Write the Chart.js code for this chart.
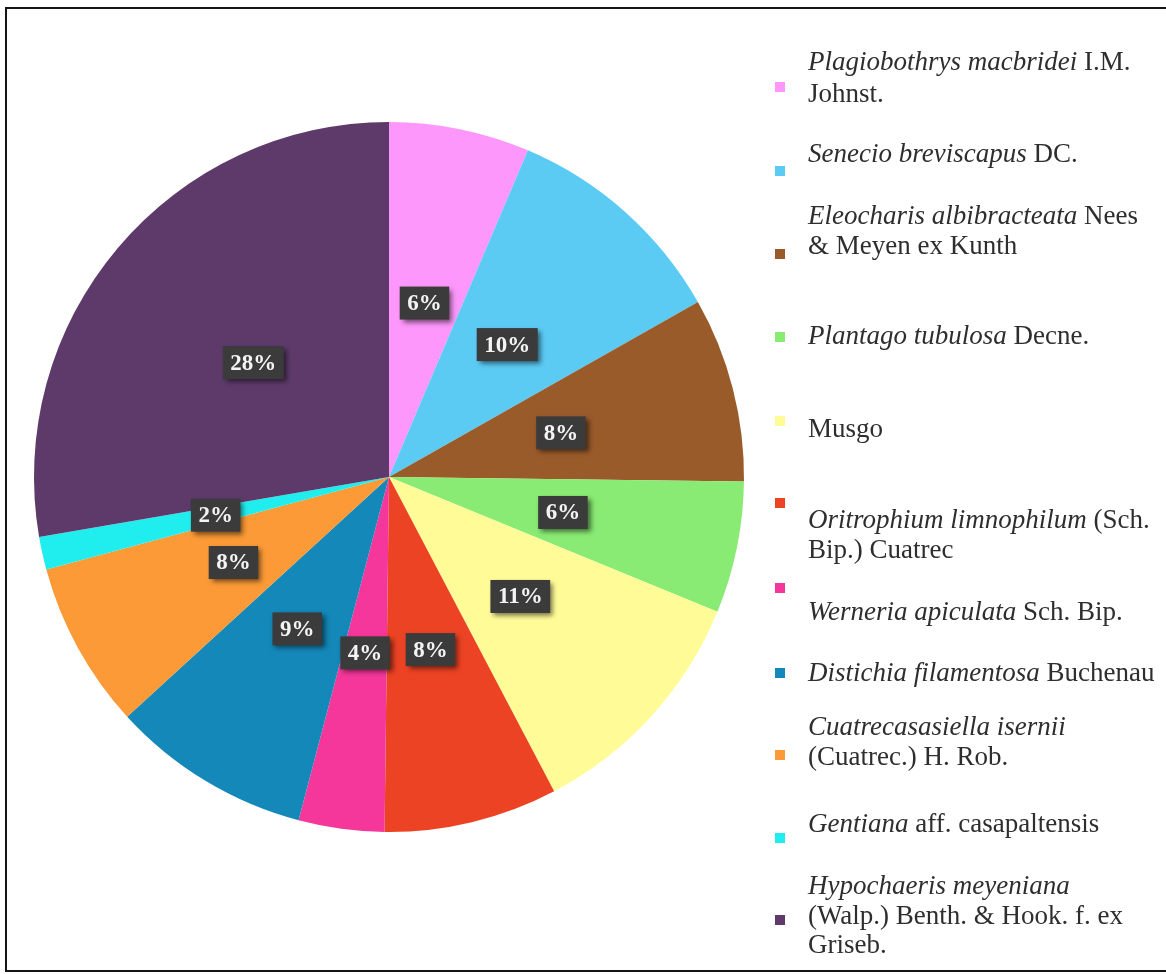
<!DOCTYPE html>
<html>
<head>
<meta charset="utf-8">
<title>Cobertura por especie</title>
<script src="https://cdn.jsdelivr.net/npm/chart.js"></script>
<style>
  html, body { margin: 0; padding: 0; background: #fff; }
  #wrap { position: relative; width: 1166px; height: 974px; overflow: hidden; }
  #frame { position: absolute; left: 5px; top: 7px; width: 1200px; height: 965px; border: 2px solid #151515; box-sizing: border-box; }
  #cover-chart { position: absolute; left: 0; top: 0; }
</style>
</head>
<body>
<div id="wrap">
  <div id="frame"></div>
  <canvas id="cover-chart" width="1166" height="974"></canvas>
</div>
<script>
// species, clockwise from 12 o'clock
const species = [
  'Plagiobothrys macbridei I.M. Johnst.',
  'Senecio breviscapus DC.',
  'Eleocharis albibracteata Nees & Meyen ex Kunth',
  'Plantago tubulosa Decne.',
  'Musgo',
  'Oritrophium limnophilum (Sch. Bip.) Cuatrec',
  'Werneria apiculata Sch. Bip.',
  'Distichia filamentosa Buchenau',
  'Cuatrecasasiella isernii (Cuatrec.) H. Rob.',
  'Gentiana aff. casapaltensis',
  'Hypochaeris meyeniana (Walp.) Benth. & Hook. f. ex Griseb.'
];

// relative cover (%)
const cover = [6.4, 10.4, 8.4, 6.0, 11.1, 7.9, 3.9, 9.1, 7.6, 1.5, 27.7];

const sliceColors = [
  '#fd97fb', '#5ccbf4', '#9a5b2b', '#8aeb74', '#fffc98', '#ec4324',
  '#f5369a', '#1488b9', '#fb9a36', '#20eeee', '#5d3a6a'
];

// legend text, line by line; each segment is [text, italic]
const legendText = [
  [[['Plagiobothrys macbridei', true], [' I.M.', false]], [['Johnst.', false]]],
  [[['Senecio breviscapus', true], [' DC.', false]]],
  [[['Eleocharis albibracteata', true], [' Nees', false]], [['& Meyen ex Kunth', false]]],
  [[['Plantago tubulosa', true], [' Decne.', false]]],
  [[['Musgo', false]]],
  [[['Oritrophium limnophilum', true], [' (Sch.', false]], [['Bip.) Cuatrec', false]]],
  [[['Werneria apiculata', true], [' Sch. Bip.', false]]],
  [[['Distichia filamentosa', true], [' Buchenau', false]]],
  [[['Cuatrecasasiella isernii', true]], [['(Cuatrec.) H. Rob.', false]]],
  [[['Gentiana', true], [' aff. casapaltensis', false]]],
  [[['Hypochaeris meyeniana', true]], [['(Walp.) Benth. & Hook. f. ex', false]], [['Griseb.', false]]]
];

// legend layout
const legendMarkerX = 780;
const legendTextX = 808;
const legendMarkerY = [87, 171, 254, 337, 421, 503, 588, 673, 755, 838, 920];
const legendLineY = [
  [63, 95], [155], [217, 247], [337], [430], [521, 551],
  [613], [674], [728, 758], [825], [887, 917, 946]
];

const serif = '"Liberation Serif", "Times New Roman", serif';

// dark percentage boxes in the middle of each slice
const percentBoxes = {
  id: 'percentBoxes',
  afterDatasetsDraw(chart) {
    const ctx = chart.ctx;
    const meta = chart.getDatasetMeta(0);
    const total = cover.reduce((a, b) => a + b, 0);
    ctx.save();
    ctx.font = 'bold 23px ' + serif;
    ctx.textAlign = 'center';
    ctx.textBaseline = 'middle';
    meta.data.forEach((arc, i) => {
      const p = arc.tooltipPosition(true);
      const text = Math.round(cover[i] / total * 100) + '%';
      const w = ctx.measureText(text).width + 15;
      const h = 33;
      ctx.shadowColor = 'rgba(0, 0, 0, 0.55)';
      ctx.shadowBlur = 5;
      ctx.shadowOffsetX = 3;
      ctx.shadowOffsetY = 3;
      ctx.fillStyle = '#3b3b3b';
      ctx.fillRect(p.x - w / 2, p.y - h / 2, w, h);
      ctx.shadowColor = 'transparent';
      ctx.fillStyle = '#f4f4f4';
      ctx.fillText(text, p.x, p.y + 1);
    });
    ctx.restore();
  }
};

// legend with italic genus/species names
const speciesLegend = {
  id: 'speciesLegend',
  afterDraw(chart) {
    const ctx = chart.ctx;
    const colors = chart.data.datasets[0].backgroundColor;
    ctx.save();
    ctx.textBaseline = 'middle';
    ctx.textAlign = 'left';
    legendText.forEach((lines, i) => {
      ctx.fillStyle = colors[i];
      ctx.fillRect(legendMarkerX - 5, legendMarkerY[i] - 5, 10, 10);
      ctx.fillStyle = '#2e2e2e';
      lines.forEach((segs, j) => {
        let x = legendTextX;
        segs.forEach(([txt, italic]) => {
          ctx.font = (italic ? 'italic ' : '') + '27px ' + serif;
          ctx.fillText(txt, x, legendLineY[i][j]);
          x += ctx.measureText(txt).width;
        });
      });
    });
    ctx.restore();
  }
};

const canvasChart = document.querySelector('#cover-chart');

let config = {
  type: 'pie',
  data: {
    labels: species,
    datasets: [
      {
        data: cover,
        backgroundColor: sliceColors,
        borderWidth: 0,
      },
    ],
  },
  options: {
    responsive: false,
    animation: false,
    devicePixelRatio: 1,
    layout: {
      padding: { left: 34, right: 422, top: 122, bottom: 142 },
    },
    plugins: {
      legend: { display: false },
      tooltip: { enabled: false },
    },
  },
  plugins: [percentBoxes, speciesLegend],
};

let chart = new Chart(canvasChart, config);
</script>
</body>
</html>
